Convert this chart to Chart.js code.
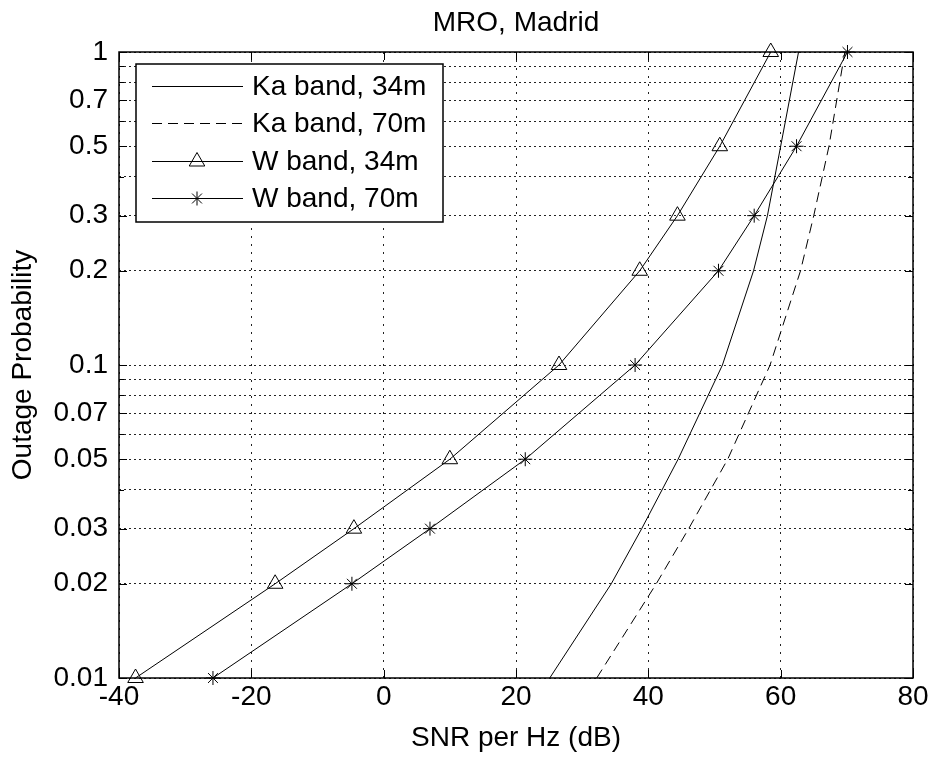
<!DOCTYPE html>
<html>
<head>
<meta charset="utf-8">
<title>MRO, Madrid</title>
<script src="https://cdn.jsdelivr.net/npm/chart.js@4/dist/chart.umd.min.js"></script>
<style>
  body { margin: 0; background: #fff; }
  #wrap { width: 931px; height: 758px; }
</style>
</head>
<body>
<div id="wrap"><canvas id="outage"></canvas></div>
<script>
// outage probability levels where the curves were computed
var probs = [0.01, 0.02, 0.03, 0.05, 0.1, 0.2, 0.3, 0.5, 1];
// SNR per Hz (dB) needed for each level
var kaBand34 = [25.1, 34.4, 39.0, 44.5, 51.2, 55.9, 58.0, 60.0, 62.7];
var kaBand70 = [32.2, 41.2, 46.1, 52.0, 58.4, 63.0, 65.0, 67.3, 69.7];
var wBand34 = [-37.5, -16.4, -4.5, 10.0, 26.5, 38.7, 44.4, 50.8, 58.5];
var wBand70 = [-25.8, -4.8, 7.0, 21.4, 38.0, 50.6, 56.0, 62.4, 70.1];

var seriesNames = ['Ka band, 34m', 'Ka band, 70m', 'W band, 34m', 'W band, 70m'];

// y axis: grid on every log step, labels only on some
var yGrid = [0.01, 0.02, 0.03, 0.04, 0.05, 0.06, 0.07, 0.08, 0.09,
             0.1, 0.2, 0.3, 0.4, 0.5, 0.6, 0.7, 0.8, 0.9, 1];
var yLabels = [0.01, 0.02, 0.03, 0.05, 0.07, 0.1, 0.2, 0.3, 0.5, 0.7, 1];

var FONT = '"Liberation Sans", Arial, sans-serif';

function points(xs){
  var out = [];
  for (var i = 0; i < xs.length; i++) out.push({x: xs[i], y: probs[i]});
  return out;
}

function serie(name, xs, style){
  var d = {
    label: name,
    data: points(xs),
    borderColor: '#000',
    borderWidth: 1,
    backgroundColor: 'rgba(0,0,0,0)',
    pointBorderColor: '#000',
    pointBackgroundColor: 'rgba(0,0,0,0)',
    pointBorderWidth: 1,
    pointRadius: 0,
    tension: 0,
    clip: false
  };
  for (var k in style) d[k] = style[k];
  return d;
}

// frame and inward ticks like matlab
var framePlugin = {
  id: 'frame',
  beforeDatasetsDraw: function(chart){
    var ctx = chart.ctx, a = chart.chartArea;
    var xs = chart.scales.x, ys = chart.scales.y;
    ctx.save();
    ctx.strokeStyle = '#000';
    ctx.lineWidth = 1;
    ctx.beginPath();
    xs.ticks.forEach(function(t){
      var px = Math.round(xs.getPixelForValue(t.value)) + 0.5;
      ctx.moveTo(px, a.bottom); ctx.lineTo(px, a.bottom - 8);
      ctx.moveTo(px, a.top); ctx.lineTo(px, a.top + 8);
    });
    ys.ticks.forEach(function(t){
      var py = Math.round(ys.getPixelForValue(t.value)) + 0.5;
      var len = yLabels.indexOf(t.value) >= 0 ? 8 : 5;
      ctx.moveTo(a.left, py); ctx.lineTo(a.left + len, py);
      ctx.moveTo(a.right, py); ctx.lineTo(a.right - len, py);
    });
    ctx.stroke();
    ctx.lineWidth = 1.5;
    ctx.strokeRect(a.left, a.top, a.right - a.left, a.bottom - a.top);
    ctx.restore();
  }
};

function drawMarker(ctx, style, x, y){
  ctx.beginPath();
  if (style === 'triangle') {
    var r = 9;
    ctx.moveTo(x, y - r);
    ctx.lineTo(x + r * 0.866, y + r * 0.5);
    ctx.lineTo(x - r * 0.866, y + r * 0.5);
    ctx.closePath();
  } else if (style === 'star') {
    var s = 7, d = s * 0.707;
    ctx.moveTo(x - s, y); ctx.lineTo(x + s, y);
    ctx.moveTo(x, y - s); ctx.lineTo(x, y + s);
    ctx.moveTo(x - d, y - d); ctx.lineTo(x + d, y + d);
    ctx.moveTo(x - d, y + d); ctx.lineTo(x + d, y - d);
  }
  ctx.stroke();
}

// legend box in the upper left corner of the plot
var boxLegend = {
  id: 'boxLegend',
  afterDraw: function(chart){
    var ctx = chart.ctx, a = chart.chartArea;
    var left = a.left + 17, top = a.top + 12, w = 307, h = 158;
    ctx.save();
    ctx.fillStyle = '#fff';
    ctx.fillRect(left, top, w, h);
    ctx.strokeStyle = '#000';
    ctx.lineWidth = 1.5;
    ctx.strokeRect(left, top, w, h);
    ctx.font = '28px ' + FONT;
    ctx.textBaseline = 'middle';
    ctx.fillStyle = '#000';
    chart.data.datasets.forEach(function(ds, i){
      var y = Math.round(top + 22 + i * 37.3) + 0.5;
      ctx.lineWidth = 1;
      ctx.setLineDash(ds.borderDash || []);
      ctx.beginPath();
      ctx.moveTo(left + 16, y); ctx.lineTo(left + 107, y);
      ctx.stroke();
      ctx.setLineDash([]);
      if (ds.pointStyle) drawMarker(ctx, ds.pointStyle, left + 61, y);
      ctx.fillText(ds.label, left + 116, y + 1);
    });
    ctx.restore();
  }
};

var chart = new Chart(document.getElementById('outage'), {
  type: 'line',
  data: {
    datasets: [
      serie(seriesNames[0], kaBand34, {}),
      serie(seriesNames[1], kaBand70, {borderDash: [10, 6]}),
      serie(seriesNames[2], wBand34, {pointStyle: 'triangle', pointRadius: 9}),
      serie(seriesNames[3], wBand70, {pointStyle: 'star', pointRadius: 7})
    ]
  },
  options: {
    responsive: true,
    maintainAspectRatio: false,
    devicePixelRatio: 1,
    animation: false,
    layout: { padding: { left: 0, right: 18, top: 0, bottom: 0 } },
    plugins: {
      legend: { display: false },
      tooltip: { enabled: false },
      title: {
        display: true,
        text: 'MRO, Madrid',
        fullSize: false,
        color: '#000',
        font: { family: FONT, size: 28, weight: 'normal' },
        padding: { top: 6, bottom: 12.4 }
      }
    },
    scales: {
      x: {
        type: 'linear',
        min: -40,
        max: 80,
        afterFit: function(s){ s.height = 80; },
        ticks: {
          stepSize: 20,
          color: '#000',
          padding: 2,
          maxRotation: 0,
          font: { family: FONT, size: 28 }
        },
        grid: { color: '#222', lineWidth: 1, drawTicks: false },
        border: { display: false, dash: [2, 6] },
        title: {
          display: true,
          text: 'SNR per Hz (dB)',
          color: '#000',
          font: { family: FONT, size: 28 },
          padding: { top: 0, bottom: 3 }
        }
      },
      y: {
        type: 'logarithmic',
        min: 0.01,
        max: 1,
        afterFit: function(s){ s.width = 119; },
        afterBuildTicks: function(s){
          s.ticks = yGrid.map(function(v){ return {value: v}; });
        },
        ticks: {
          autoSkip: false,
          color: '#000',
          padding: 11,
          font: { family: FONT, size: 28 },
          callback: function(v){ return yLabels.indexOf(v) >= 0 ? String(v) : ''; }
        },
        grid: { color: '#222', lineWidth: 1, drawTicks: false },
        border: { display: false, dash: [2, 3] },
        title: {
          display: true,
          text: 'Outage Probability',
          color: '#000',
          font: { family: FONT, size: 28 },
          padding: { top: 6, bottom: 0 }
        }
      }
    }
  },
  plugins: [framePlugin, boxLegend]
});
</script>
</body>
</html>
